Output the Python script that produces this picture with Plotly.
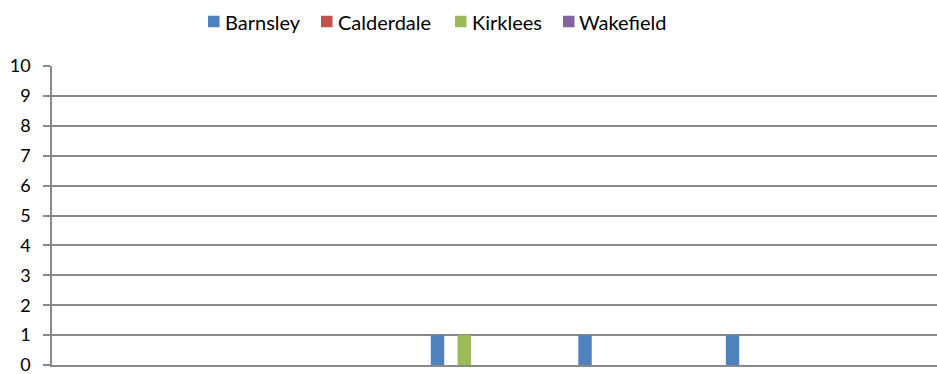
import plotly.graph_objects as go

# Monthly counts per district
months = ["Jan", "Feb", "Mar", "Apr", "May", "Jun",
          "Jul", "Aug", "Sep", "Oct", "Nov", "Dec"]
barnsley = [0, 0, 0, 0, 0, 1, 0, 1, 0, 1, 0, 0]
calderdale = [0, 0, 0, 0, 0, 0, 0, 0, 0, 0, 0, 0]
kirklees = [0, 0, 0, 0, 0, 1, 0, 0, 0, 0, 0, 0]
wakefield = [0, 0, 0, 0, 0, 0, 0, 0, 0, 0, 0, 0]

series = [
    ("Barnsley", barnsley, "#4F81BD"),
    ("Calderdale", calderdale, "#C0504D"),
    ("Kirklees", kirklees, "#9BBB59"),
    ("Wakefield", wakefield, "#8064A2"),
]

W, H = 937, 374
L, R, T, B = 52, 0, 66, 9
plot_w, plot_h = W - L - R, H - T - B


def px_to_paper(px, py):
    return (px - L) / plot_w, (H - B - py) / plot_h


fig = go.Figure()
for name, vals, color in series:
    fig.add_trace(go.Bar(x=months, y=vals, name=name, marker_color=color,
                         marker_line_width=0, showlegend=False))

# Key row above the plot: small colour square followed by the series name
key_square_left = [208, 321, 455, 563]
key_text_left = [223, 336, 470, 577]
key_y = 21.5
sq = 11.5
for (name, _, color), kx, tx_px in zip(series, key_square_left, key_text_left):
    x0, y0 = px_to_paper(kx, key_y + sq / 2)
    x1, y1 = px_to_paper(kx + sq, key_y - sq / 2)
    fig.add_shape(type="rect", xref="paper", yref="paper",
                  x0=x0, x1=x1, y0=y0, y1=y1,
                  fillcolor=color, line_width=0)
    tx, ty = px_to_paper(tx_px, key_y)
    fig.add_annotation(text=name, xref="paper", yref="paper", x=tx, y=ty,
                       xanchor="left", yanchor="middle", showarrow=False,
                       font=dict(size=20))

grid = "#898989"
fig.update_layout(
    width=W, height=H,
    margin=dict(l=L, r=R, t=T, b=B),
    paper_bgcolor="white", plot_bgcolor="white",
    barmode="group", bargap=1.5 / 5.5, bargroupgap=0,
    font=dict(family="Lato, Open Sans, sans-serif", size=18, color="#000000"),
    showlegend=False,
    xaxis=dict(showticklabels=False, showgrid=False, ticks="",
               showline=True, linecolor=grid, linewidth=1.5, zeroline=False),
    yaxis=dict(range=[0, 10], dtick=1, showgrid=True, gridcolor=grid,
               gridwidth=1.5, showline=True, linecolor=grid, linewidth=1.5,
               ticks="outside", ticklen=7, tickcolor=grid, tickwidth=1.5,
               ticklabelstandoff=9, ticklabeloverflow="allow",
               zeroline=False),
)

fig.write_html("out.html")
